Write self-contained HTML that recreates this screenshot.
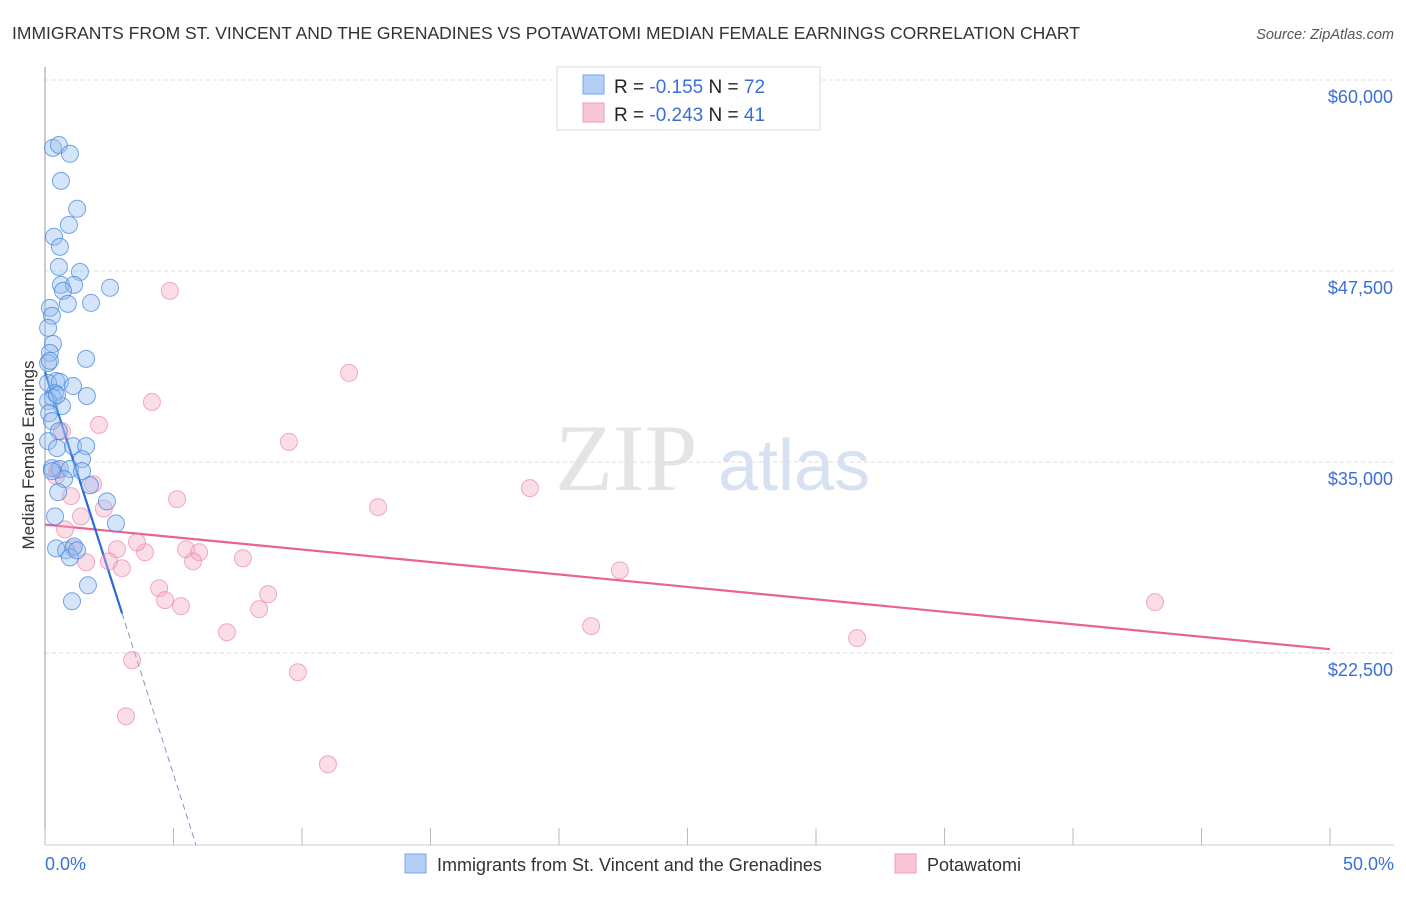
<!DOCTYPE html>
<html><head><meta charset="utf-8"><style>
body{margin:0;background:#fff;width:1406px;height:892px;overflow:hidden;font-family:"Liberation Sans",sans-serif}
</style></head><body>
<svg id="chart" width="1406" height="892" xmlns="http://www.w3.org/2000/svg" font-family="Liberation Sans, sans-serif">
<text x="12" y="39" font-size="17.5" fill="#333">IMMIGRANTS FROM ST. VINCENT AND THE GRENADINES VS POTAWATOMI MEDIAN FEMALE EARNINGS CORRELATION CHART</text>
<text x="1394" y="39" font-size="14.5" fill="#555" font-style="italic" text-anchor="end">Source: ZipAtlas.com</text>
<text x="555" y="490" font-size="95" fill="#e4e4e4" font-family="Liberation Serif, serif">ZIP</text>
<text x="718" y="490" font-size="72" fill="#d6e2f2">atlas</text>
<text transform="translate(34,455) rotate(-90)" font-size="17" fill="#333" text-anchor="middle">Median Female Earnings</text>
<g id="grid"></g><g id="axes"></g><g id="marks"></g>
<g>
<rect x="557" y="67" width="263" height="63" fill="#fff" stroke="#ddd"/>
<rect x="583" y="75" width="21" height="19" fill="#b4cff5" stroke="#7aa6e6"/>
<rect x="583" y="103" width="21" height="19" fill="#f8c6d6" stroke="#ee9ab6"/>
<text x="614" y="93" font-size="19" fill="#222">R = <tspan fill="#3a6fd8"> -0.155</tspan>   N = <tspan fill="#3a6fd8">72</tspan></text>
<text x="614" y="121" font-size="19" fill="#222">R = <tspan fill="#3a6fd8">-0.243</tspan>   N = <tspan fill="#3a6fd8"> 41</tspan></text>
</g>
<g>
<rect x="405" y="854" width="21" height="19" fill="#b4cff5" stroke="#7aa6e6"/>
<text x="437" y="871" font-size="18" fill="#333">Immigrants from St. Vincent and the Grenadines</text>
<rect x="895" y="854" width="21" height="19" fill="#f8c6d6" stroke="#ee9ab6"/>
<text x="927" y="871" font-size="18" fill="#333">Potawatomi</text>
</g>
</svg>
<script>
const yTicks=[22500,35000,47500,60000];
const yTickLabels=["$22,500","$35,000","$47,500","$60,000"];
const xTickLabels=["0.0%","50.0%"];
const blueX=[0.31,0.54,0.97,0.62,1.25,0.93,0.35,0.58,0.54,1.36,0.62,1.13,0.7,2.53,0.89,1.79,0.19,0.27,0.12,0.31,0.19,1.6,0.12,0.43,0.12,0.58,1.09,1.63,0.39,0.31,0.12,0.66,0.16,0.27,0.54,0.12,0.47,1.09,1.6,1.44,0.27,0.58,0.97,1.44,0.74,1.75,0.51,2.41,0.39,2.76,0.43,0.82,1.13,0.97,1.25,1.67,1.05,0.19,0.47,0.27];
const blueY=[55560,55750,55170,53400,51570,50520,49740,49080,47770,47440,46590,46590,46200,46400,45350,45410,45090,44570,43780,42730,42140,41750,41480,40300,40170,40240,39970,39320,39510,39190,38990,38660,38200,37680,37020,36370,35910,36040,36040,35190,34600,34540,34540,34400,33880,33480,33030,32420,31440,30980,29350,29220,29480,28760,29220,26930,25890,41620,39380,34400];
const pinkX=[4.86,11.83,4.16,2.1,9.49,0.47,0.43,1.87,1.01,5.14,12.96,18.87,2.29,1.4,0.78,1.09,2.8,3.89,5.49,6,7.7,2.49,1.6,5.76,2.99,3.58,4.44,8.68,4.67,5.29,8.33,22.37,43.19,21.25,7.08,31.6,3.39,9.84,3.15,11.01,0.66];
const pinkY=[46200,40830,38930,37430,36320,34480,34080,33550,32770,32570,32050,33290,31960,31440,30590,29350,29290,29090,29290,29090,28700,28500,28440,28500,28050,29740,26740,26350,25960,25570,25370,27910,25830,24260,23860,23470,22030,21240,18360,15220,37020];
const blueTrend=[40900,-0.155];
const pinkTrend=[[0,30900],[50,22750]];
const X=p=>45+p*25.7, Y=v=>80+(60000-v)*0.01528;
const NS="http://www.w3.org/2000/svg";
function mk(t,a,parent){const e=document.createElementNS(NS,t);for(const k in a)e.setAttribute(k,a[k]);document.getElementById(parent).appendChild(e);return e;}
yTicks.forEach((v,i)=>{
 const g=mk('line',{x1:45,x2:1394,y1:Y(v),y2:Y(v),stroke:'#ddd','stroke-dasharray':'4,3'},'grid');
 
 
 const t=mk('text',{x:1393,y:Y(v)+23,'font-size':18,fill:'#3a6fd8','text-anchor':'end'},'axes');
 t.textContent=yTickLabels[i];
 
 
});
const ax=mk('line',{x1:45,x2:45,y1:67,y2:845,stroke:'#999'},'axes');


const bx=mk('line',{x1:45,x2:1394,y1:845,y2:845,stroke:'#ccc'},'axes');


for(let i=0;i<=10;i++){const l=mk('line',{x1:X(i*5),x2:X(i*5),y1:828,y2:845,stroke:'#bbb'},'axes');
 
 }
[[0,'start',45],[50,'end',1394]].forEach(([p,a,x],i)=>{const t=mk('text',{x:x,y:870,'font-size':18,fill:'#3a6fd8','text-anchor':a},'axes');t.textContent=xTickLabels[i];
 
 });
// pink trend
const pl=mk('line',{x1:X(pinkTrend[0][0]),y1:Y(pinkTrend[0][1]),x2:X(pinkTrend[1][0]),y2:Y(pinkTrend[1][1]),stroke:'#e8648e','stroke-width':2.2},'marks');


// blue trend: slope in $ per % -> solid to 3%, dashed beyond
const bs=blueTrend[1]*-34000;
const bY=p=>blueTrend[0]-bs*p;
const pEnd=(blueTrend[0]-9935)/bs;
const bd=mk('line',{x1:X(3),y1:Y(bY(3)),x2:X(pEnd),y2:Y(bY(pEnd)),stroke:'#7a9ad0','stroke-width':1,'stroke-dasharray':'6,4'},'marks');


const bl=mk('line',{x1:X(0),y1:Y(bY(0)),x2:X(3),y2:Y(bY(3)),stroke:'#2a6ad6','stroke-width':2.2},'marks');


pinkX.forEach((x,i)=>{const c=mk('circle',{cx:X(x),cy:Y(pinkY[i]),r:8.5,fill:'rgba(246,170,196,0.4)',stroke:'rgba(232,120,160,0.6)','stroke-width':1},'marks');
 
 });
blueX.forEach((x,i)=>{const c=mk('circle',{cx:X(x),cy:Y(blueY[i]),r:8.5,fill:'rgba(150,190,240,0.4)',stroke:'rgba(60,130,220,0.7)','stroke-width':1},'marks');
 
 });
</script>
</body></html>
